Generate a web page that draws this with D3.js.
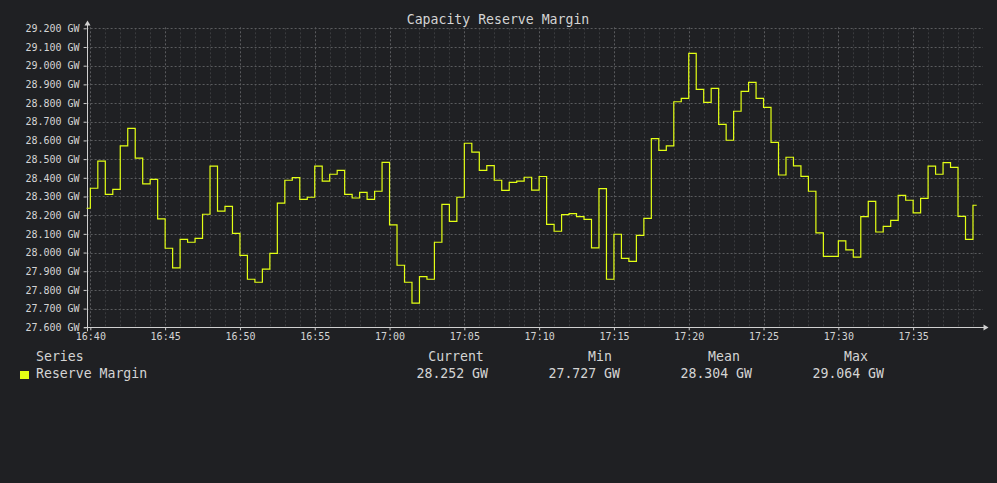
<!DOCTYPE html>
<html>
<head>
<meta charset="utf-8">
<script src="https://cdn.jsdelivr.net/npm/d3@7/dist/d3.min.js"></script>
<style>
  body { margin: 0; background: #1f2023; }
  svg { display: block; }
</style>
</head>
<body>
<div id="chart"></div>
<script>
// Data (30 s samples)
const chartTitle = "Capacity Reserve Margin";
const seriesName = "Reserve Margin";
const startTime = new Date(2024, 0, 1, 16, 39, 45);
const stepSeconds = 30;
const reserveGW = [
    28.237, 28.344, 28.489, 28.311, 28.338, 28.571, 28.665, 28.505, 28.367, 28.392,
    28.180, 28.023, 27.918, 28.071, 28.055, 28.076, 28.205, 28.462, 28.222, 28.247,
    28.103, 27.985, 27.857, 27.841, 27.911, 27.996, 28.265, 28.387, 28.401, 28.285,
    28.296, 28.462, 28.382, 28.419, 28.440, 28.311, 28.292, 28.322, 28.285, 28.328,
    28.483, 28.148, 27.932, 27.841, 27.729, 27.871, 27.857, 28.055, 28.258, 28.167,
    28.296, 28.585, 28.537, 28.440, 28.465, 28.387, 28.333, 28.376, 28.382, 28.403,
    28.334, 28.407, 28.151, 28.114, 28.203, 28.208, 28.192, 28.178, 28.025, 28.342,
    27.857, 28.098, 27.969, 27.953, 28.092, 28.183, 28.610, 28.547, 28.571, 28.807,
    28.825, 29.066, 28.873, 28.804, 28.879, 28.686, 28.601, 28.756, 28.863, 28.911,
    28.825, 28.777, 28.590, 28.415, 28.510, 28.464, 28.408, 28.328, 28.105, 27.980,
    27.980, 28.062, 28.014, 27.975, 28.192, 28.274, 28.110, 28.140, 28.172, 28.306,
    28.280, 28.212, 28.290, 28.462, 28.419, 28.481, 28.456, 28.194, 28.071, 28.253
];
const yTickValues = [27.6, 27.7, 27.8, 27.9, 28.0, 28.1, 28.2, 28.3, 28.4, 28.5,
                     28.6, 28.7, 28.8, 28.9, 29.0, 29.1, 29.2];
const xTickLabels = ["16:40", "16:45", "16:50", "16:55", "17:00", "17:05",
                     "17:10", "17:15", "17:20", "17:25", "17:30", "17:35"];
const statHeaders = ["Current", "Min", "Mean", "Max"];
const statValues = ["28.252 GW", "27.727 GW", "28.304 GW", "29.064 GW"];

const W = 997, H = 483;
const FONT = "'DejaVu Sans Mono', monospace";
const LINE_COLOR = "#e3ff14";
const TEXT_COLOR = "#d4d4d4";

const plot = { left: 86.6, right: 984.2, top: 28.3, bottom: 327.3 };

const data = reserveGW.map((v, i) => ({
    t: new Date(startTime.getTime() + i * stepSeconds * 1000),
    v
}));

const svg = d3.select("#chart").append("svg")
    .attr("width", W)
    .attr("height", H)
    .style("background", "#1f2023");

const x = d3.scaleTime()
    .domain([startTime, new Date(startTime.getTime() + 3600 * 1000)])
    .range([plot.left, plot.right]);

const y = d3.scaleLinear()
    .domain([27.6, 29.2])
    .range([plot.bottom, plot.top]);

const parseHM = d => {
    const [h, m] = d.split(":").map(Number);
    return new Date(startTime.getFullYear(), startTime.getMonth(), startTime.getDate(), h, m);
};
const xTicks = xTickLabels.map(parseHM);
const minorTicks = d3.timeMinute.range(x.domain()[0], x.domain()[1])
    .filter(d => d.getMinutes() % 5 !== 0);

// Grid
const grid = svg.append("g");
grid.selectAll(".minor").data(minorTicks).enter().append("line")
    .attr("x1", d => Math.round(x(d)) + 0.5).attr("x2", d => Math.round(x(d)) + 0.5)
    .attr("y1", plot.top).attr("y2", plot.bottom)
    .attr("stroke", "#3a3b3e").attr("stroke-dasharray", "2,2");
grid.selectAll(".majorx").data(xTicks).enter().append("line")
    .attr("x1", d => Math.round(x(d)) + 0.5).attr("x2", d => Math.round(x(d)) + 0.5)
    .attr("y1", plot.top - 1).attr("y2", plot.bottom)
    .attr("stroke", "#5a5b5e").attr("stroke-dasharray", "2,2");
grid.selectAll(".majory").data(yTickValues).enter().append("line")
    .attr("x1", plot.left).attr("x2", 983)
    .attr("y1", d => Math.round(y(d)) + 0.5).attr("y2", d => Math.round(y(d)) + 0.5)
    .attr("stroke", "#5a5b5e").attr("stroke-dasharray", "2,2");

// Axes (ticks + labels)
const yAxis = svg.append("g")
    .attr("transform", `translate(${plot.left},0)`)
    .call(d3.axisLeft(y).tickValues(yTickValues).tickSize(3).tickPadding(4)
        .tickFormat(d => d3.format(".3f")(d) + " GW"));
yAxis.select(".domain").remove();
yAxis.selectAll("line").attr("stroke", "#cfcfcf");
yAxis.selectAll("text").attr("fill", TEXT_COLOR)
    .style("font-family", FONT).style("font-size", "10px");

const xAxis = svg.append("g")
    .attr("transform", `translate(0,${plot.bottom})`)
    .call(d3.axisBottom(x).tickValues(xTicks).tickSize(3).tickPadding(3)
        .tickFormat(d3.timeFormat("%H:%M")));
xAxis.select(".domain").remove();
xAxis.selectAll("line").attr("stroke", "#cfcfcf");
xAxis.selectAll("text").attr("fill", TEXT_COLOR)
    .style("font-family", FONT).style("font-size", "10px");

// Axis lines with arrows
const axisColor = "#d0d0d0";
svg.append("line")
    .attr("x1", 87.5).attr("x2", 87.5).attr("y1", plot.bottom + 4).attr("y2", 24)
    .attr("stroke", axisColor);
svg.append("path")
    .attr("d", "M84.5,25.5 L87.5,20.5 L90.5,25.5 Z").attr("fill", axisColor);
svg.append("line")
    .attr("x1", 84).attr("x2", 984).attr("y1", 327.5).attr("y2", 327.5)
    .attr("stroke", axisColor);
svg.append("path")
    .attr("d", "M983.5,324.5 L988.5,327.5 L983.5,330.5 Z").attr("fill", axisColor);

// Series line
const line = d3.line()
    .x(d => x(d.t))
    .y(d => y(d.v))
    .curve(d3.curveStep);

svg.append("path")
    .datum(data)
    .attr("fill", "none")
    .attr("stroke", LINE_COLOR)
    .attr("stroke-width", 1.2)
    .attr("d", line);

// Title
svg.append("text")
    .attr("x", 498).attr("y", 24)
    .attr("text-anchor", "middle")
    .attr("fill", TEXT_COLOR)
    .style("font-family", FONT).style("font-size", "13.2px")
    .text(chartTitle);

// Legend table
const legend = svg.append("g")
    .style("font-family", FONT).style("font-size", "13.2px")
    .attr("fill", TEXT_COLOR);

legend.append("text").attr("x", 36).attr("y", 361).text("Series");
legend.append("rect").attr("x", 20).attr("y", 371).attr("width", 9).attr("height", 8)
    .attr("fill", LINE_COLOR);
legend.append("text").attr("x", 36).attr("y", 378).text(seriesName);

const headerX = [456, 600, 724, 856];
const valueX = [416.5, 548.5, 680.5, 812.5];
statHeaders.forEach((h, i) => {
    legend.append("text").attr("x", headerX[i]).attr("y", 361)
        .attr("text-anchor", "middle").text(h);
    legend.append("text").attr("x", valueX[i]).attr("y", 378).text(statValues[i]);
});
</script>
</body>
</html>
